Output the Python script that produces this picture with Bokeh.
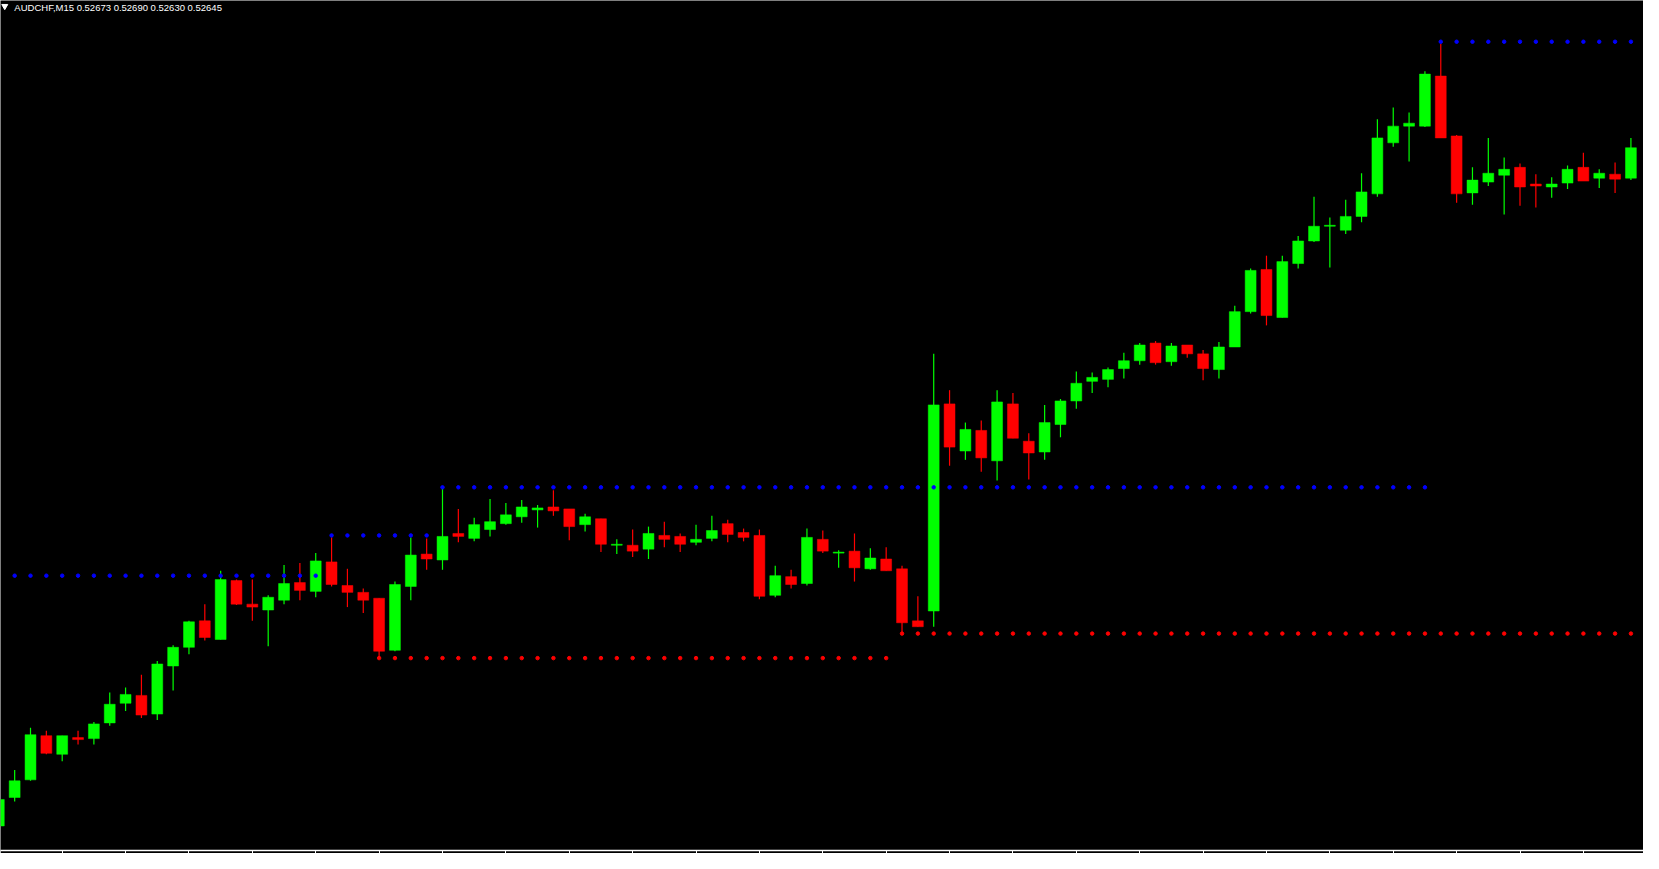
from bokeh.plotting import figure
from bokeh.models import (Range1d, LinearAxis, FixedTicker, Label, ColumnDataSource,
                          CustomJSTickFormatter)
from bokeh.embed import file_html
from bokeh.resources import INLINE

# ---------------- data ----------------
symbol = "AUDCHF,M15"
header_values = ["0.52673", "0.52690", "0.52630", "0.52645"]

opens = [0.51959, 0.51988, 0.52006, 0.52051, 0.52032, 0.52049, 0.52048, 0.52064, 0.52084, 0.52092,
         0.52073, 0.52122, 0.52141, 0.52168, 0.52149, 0.52209, 0.52185, 0.52179, 0.52189, 0.52207,
         0.52198, 0.52228, 0.52204, 0.52197, 0.52191, 0.52138, 0.52203, 0.52236, 0.52230, 0.52257,
         0.52252, 0.52261, 0.52267, 0.52274, 0.52281, 0.52284, 0.52282, 0.52266, 0.52272, 0.52245,
         0.52245, 0.52241, 0.52255, 0.52254, 0.52248, 0.52252, 0.52267, 0.52258, 0.52255, 0.52194,
         0.52213, 0.52206, 0.52251, 0.52237, 0.52239, 0.52221, 0.52231, 0.52221, 0.52168, 0.52178,
         0.52389, 0.52341, 0.52362, 0.52331, 0.52389, 0.52351, 0.52340, 0.52368, 0.52392, 0.52412,
         0.52414, 0.52425, 0.52433, 0.52451, 0.52432, 0.52449, 0.52440, 0.52424, 0.52447, 0.52483,
         0.52526, 0.52477, 0.52532, 0.52555, 0.52570, 0.52566, 0.52580, 0.52603, 0.52655, 0.52672,
         0.52672, 0.52723, 0.52662, 0.52604, 0.52615, 0.52622, 0.52630, 0.52613, 0.52610, 0.52614,
         0.52630, 0.52619, 0.52623, 0.52619]
highs = [0.51986, 0.52016, 0.52059, 0.52056, 0.52051, 0.52056, 0.52065, 0.52095, 0.52100, 0.52113,
         0.52127, 0.52143, 0.52168, 0.52185, 0.52219, 0.52210, 0.52210, 0.52194, 0.52225, 0.52227,
         0.52237, 0.52253, 0.52221, 0.52201, 0.52191, 0.52208, 0.52253, 0.52252, 0.52303, 0.52282,
         0.52273, 0.52292, 0.52288, 0.52291, 0.52286, 0.52301, 0.52282, 0.52277, 0.52272, 0.52251,
         0.52261, 0.52264, 0.52269, 0.52257, 0.52266, 0.52275, 0.52271, 0.52262, 0.52261, 0.52224,
         0.52220, 0.52262, 0.52260, 0.52240, 0.52257, 0.52242, 0.52243, 0.52224, 0.52193, 0.52440,
         0.52403, 0.52370, 0.52372, 0.52403, 0.52400, 0.52359, 0.52388, 0.52394, 0.52422, 0.52421,
         0.52426, 0.52441, 0.52451, 0.52453, 0.52451, 0.52449, 0.52444, 0.52452, 0.52489, 0.52527,
         0.52540, 0.52540, 0.52560, 0.52600, 0.52579, 0.52597, 0.52624, 0.52679, 0.52691, 0.52686,
         0.52728, 0.52756, 0.52663, 0.52630, 0.52660, 0.52640, 0.52634, 0.52623, 0.52620, 0.52632,
         0.52645, 0.52628, 0.52635, 0.52660]
lows = [0.51959, 0.51984, 0.52005, 0.52032, 0.52025, 0.52042, 0.52042, 0.52061, 0.52076, 0.52069,
        0.52067, 0.52097, 0.52134, 0.52148, 0.52149, 0.52184, 0.52168, 0.52142, 0.52185, 0.52189,
        0.52192, 0.52203, 0.52182, 0.52176, 0.52130, 0.52137, 0.52189, 0.52220, 0.52220, 0.52248,
        0.52249, 0.52254, 0.52266, 0.52268, 0.52263, 0.52275, 0.52250, 0.52259, 0.52238, 0.52236,
        0.52233, 0.52231, 0.52243, 0.52238, 0.52245, 0.52249, 0.52248, 0.52249, 0.52190, 0.52192,
        0.52201, 0.52204, 0.52237, 0.52222, 0.52208, 0.52220, 0.52219, 0.52154, 0.52162, 0.52162,
        0.52326, 0.52332, 0.52320, 0.52311, 0.52354, 0.52312, 0.52332, 0.52355, 0.52384, 0.52400,
        0.52406, 0.52415, 0.52429, 0.52429, 0.52428, 0.52436, 0.52413, 0.52415, 0.52447, 0.52481,
        0.52469, 0.52477, 0.52527, 0.52554, 0.52528, 0.52562, 0.52574, 0.52600, 0.52651, 0.52636,
        0.52671, 0.52660, 0.52594, 0.52592, 0.52611, 0.52582, 0.52591, 0.52589, 0.52599, 0.52608,
        0.52616, 0.52609, 0.52604, 0.52617]
closes = [0.51986, 0.52005, 0.52052, 0.52033, 0.52051, 0.52047, 0.52063, 0.52083, 0.52093, 0.52072,
          0.52124, 0.52141, 0.52167, 0.52151, 0.52210, 0.52185, 0.52182, 0.52192, 0.52206, 0.52199,
          0.52229, 0.52205, 0.52197, 0.52189, 0.52137, 0.52205, 0.52235, 0.52231, 0.52254, 0.52254,
          0.52266, 0.52269, 0.52276, 0.52284, 0.52283, 0.52280, 0.52264, 0.52274, 0.52246, 0.52246,
          0.52239, 0.52257, 0.52251, 0.52246, 0.52251, 0.52260, 0.52256, 0.52253, 0.52193, 0.52214,
          0.52205, 0.52253, 0.52239, 0.52238, 0.52222, 0.52232, 0.52219, 0.52166, 0.52162, 0.52388,
          0.52345, 0.52363, 0.52334, 0.52391, 0.52354, 0.52339, 0.52370, 0.52392, 0.52410, 0.52416,
          0.52424, 0.52433, 0.52449, 0.52431, 0.52448, 0.52440, 0.52425, 0.52447, 0.52483, 0.52525,
          0.52479, 0.52534, 0.52555, 0.52570, 0.52571, 0.52580, 0.52605, 0.52660, 0.52672, 0.52675,
          0.52725, 0.52660, 0.52603, 0.52617, 0.52624, 0.52628, 0.52610, 0.52611, 0.52613, 0.52628,
          0.52616, 0.52624, 0.52618, 0.52650]

# dotted support / resistance levels: first bar, last bar, price
blue_start = [1, 21, 28, 91]
blue_end = [20, 27, 90, 103]
blue_price = [0.52214, 0.52255, 0.52304, 0.52758]
red_start = [24, 57]
red_end = [56, 103]
red_price = [0.52130, 0.52155]

# ---------------- layout constants ----------------
BAR_PX = 16.0          # reference pixel spacing of bars
FIRST_BAR_PX = -1.7    # reference pixel centre of bar 0
REF_W, REF_H = 1659.0, 866.0
PRICE_TOP = 0.52800
PX_PER_PRICE = 100000.0

W, H = 1643, 853

x_lo = (0 - FIRST_BAR_PX) / BAR_PX
x_hi = (REF_W - FIRST_BAR_PX) / BAR_PX
y_hi = PRICE_TOP
y_lo = PRICE_TOP - REF_H / PX_PER_PRICE

p = figure(width=W, height=H, output_backend="svg", toolbar_location=None,
           x_range=Range1d(x_lo, x_hi), y_range=Range1d(y_lo, y_hi),
           x_axis_type=None, y_axis_type=None,
           background_fill_color="black", border_fill_color="black",
           min_border=0, min_border_left=0, min_border_right=0,
           min_border_top=0, min_border_bottom=0)
p.outline_line_color = None
p.grid.visible = False

idx = list(range(len(opens)))
GREEN = "#00FF00"
RED = "#FF0000"
colors = [GREEN if c >= o else RED for o, c in zip(opens, closes)]
src = ColumnDataSource(dict(
    x=idx, o=opens, h=highs, l=lows, c=closes,
    top=[max(o, c) for o, c in zip(opens, closes)],
    bot=[min(o, c) for o, c in zip(opens, closes)],
    col=colors))

p.segment(x0="x", y0="l", x1="x", y1="h", line_color="col", line_width=1.2, source=src)
p.vbar(x="x", width=11.0 / BAR_PX, top="top", bottom="bot",
       fill_color="col", line_color="col", line_width=0.5, source=src)

# dotted levels
bx, by = [], []
for s, e, pr in zip(blue_start, blue_end, blue_price):
    for k in range(s, e + 1):
        bx.append(k); by.append(pr)
rx, ry = [], []
for s, e, pr in zip(red_start, red_end, red_price):
    for k in range(s, e + 1):
        rx.append(k); ry.append(pr)
p.scatter(bx, by, marker="circle", size=3.5, fill_color="#0000FF", line_color="#0000FF")
p.scatter(rx, ry, marker="circle", size=3.5, fill_color="#FF0000", line_color="#FF0000")

# bottom time axis (ticks only, no labels)
ax = LinearAxis(ticker=FixedTicker(ticks=list(range(4, len(opens), 4))),
                formatter=CustomJSTickFormatter(code="return '';"),
                major_label_text_font_size="1px", major_label_standoff=0,
                major_tick_in=0, major_tick_out=3,
                minor_tick_line_color=None,
                axis_line_color="white", major_tick_line_color="white",
                axis_line_width=1.5)
p.add_layout(ax, "below")

# header
p.scatter([x_lo + 4.3 / BAR_PX], [PRICE_TOP - 5.8 / PX_PER_PRICE],
          marker="inverted_triangle", size=6, fill_color="white", line_color="white")
p.add_layout(Label(x=x_lo + 14.0 / BAR_PX, y=PRICE_TOP - 1.5 / PX_PER_PRICE,
                   text=symbol + " " + " ".join(header_values),
                   text_color="white", text_font="Liberation Sans",
                   text_font_size="9.5px", text_baseline="top", text_align="left"))

open("out.html", "w").write(file_html(p, INLINE))
